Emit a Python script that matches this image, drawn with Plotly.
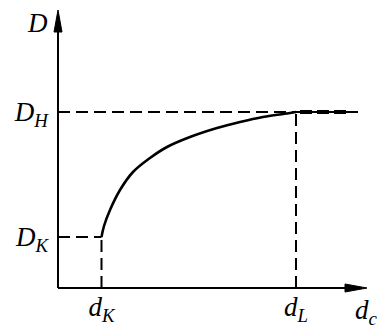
import plotly.graph_objects as go

# data (arbitrary units; origin at axis corner)
curve_x = [43.5, 46, 52, 62, 75, 92, 109, 132, 159, 182, 205, 232, 238]
curve_y = [51, 62, 78, 98, 116, 130, 141, 151, 160, 166, 171, 175, 176]
d_K, d_L = 43.5, 238
D_K, D_H = 51, 176
x_tick_labels = ["<i>d</i><sub><i>K</i></sub>", "<i>d</i><sub><i>L</i></sub>"]
y_tick_labels = ["<i>D</i><sub><i>K</i></sub>", "<i>D</i><sub><i>H</i></sub>"]
x_axis_end, y_axis_end = 309, 278
dash_end = 305

FONT = "Liberation Serif"
W, H = 386, 330
OX, OY = 58, 42  # origin offset in px from left / bottom

fig = go.Figure()

fig.add_trace(go.Scatter(x=curve_x, y=curve_y, mode="lines",
                         line=dict(color="black", width=2.6, shape="spline"),
                         hoverinfo="skip", showlegend=False))

dash = dict(color="black", width=2, dash="12px,6px")
solid = dict(color="black", width=2)
ah, aw = 22, 4  # arrowhead length / half width
shapes = [
    # axes
    dict(type="line", x0=0, x1=x_axis_end - 10, y0=0, y1=0, line=solid),
    dict(type="line", x0=0, x1=0, y0=0, y1=y_axis_end - 10, line=solid),
    dict(type="path", path=f"M {x_axis_end},0 L {x_axis_end-ah},{aw} L {x_axis_end-ah},{-aw} Z",
         fillcolor="black", line=dict(color="black", width=1)),
    dict(type="path", path=f"M 0,{y_axis_end} L {aw},{y_axis_end-ah} L {-aw},{y_axis_end-ah} Z",
         fillcolor="black", line=dict(color="black", width=1)),
    # guide lines
    dict(type="line", x0=0, x1=dash_end, y0=D_H, y1=D_H, line=dash),
    dict(type="line", x0=d_L + 4, x1=d_L + 50, y0=D_H, y1=D_H,
         line=dict(color="black", width=4, dash="12px,5px")),
    dict(type="line", x0=0, x1=d_K, y0=D_K, y1=D_K, line=dash),
    dict(type="line", x0=d_K, x1=d_K, y0=0, y1=D_K, line=dash),
    dict(type="line", x0=d_L, x1=d_L, y0=0, y1=D_H, line=dash),
]
for s in shapes:
    s.update(xref="x", yref="y")
fig.update_layout(shapes=shapes)

annotations = [
    dict(x=-21, y=265, xref="x", yref="y", text="<i>D</i>", showarrow=False,
         xanchor="center", yanchor="middle",
         font=dict(family=FONT, size=27, color="black")),
    dict(x=308, y=-24, xref="x", yref="y", text="<i>d</i><sub><i>c</i></sub>",
         xanchor="center", yanchor="middle",
         showarrow=False, font=dict(family=FONT, size=27, color="black")),
]
fig.update_layout(annotations=annotations)

fig.update_xaxes(range=[-OX, W - OX], showgrid=False, zeroline=False, showline=False,
                 anchor="free", position=OY / H,
                 tickvals=[d_K, d_L], ticktext=x_tick_labels, ticks="",
                 tickfont=dict(family=FONT, size=27, color="black"))
fig.update_yaxes(range=[-OY, H - OY], showgrid=False, zeroline=False, showline=False,
                 anchor="free", position=OX / W,
                 tickvals=[D_K, D_H], ticktext=y_tick_labels, ticks="",
                 ticklabelstandoff=10,
                 tickfont=dict(family=FONT, size=27, color="black"))

fig.update_layout(width=W, height=H, margin=dict(l=0, r=0, t=0, b=0),
                  plot_bgcolor="white", paper_bgcolor="white")
fig.write_html("out.html")
